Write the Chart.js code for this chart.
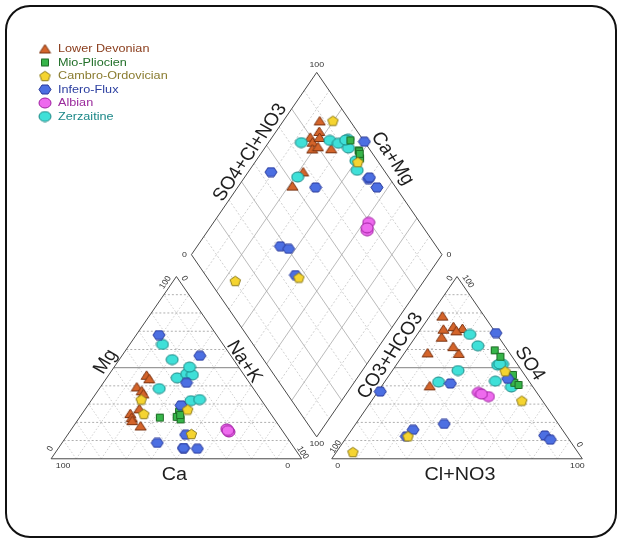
<!DOCTYPE html>
<html>
<head>
<meta charset="utf-8">
<title>Piper diagram</title>
<script src="https://cdn.jsdelivr.net/npm/chart.js@4.4.1/dist/chart.umd.min.js"></script>
<style>
  html, body { margin: 0; padding: 0; background: #ffffff; }
  canvas { display: block; }
</style>
</head>
<body>
<canvas id="piper" width="622" height="543"></canvas>
<script>
// ---- Sample chemistry (meq %). Ca = 100 - Mg - NaK, HCO3 = 100 - SO4 - Cl ----
const groupNames = ['Lower Devonian', 'Mio-Pliocien', 'Cambro-Ordovician', 'Infero-Flux', 'Albian', 'Zerzaitine'];

const devonianMg  = [39.4, 45.8, 43.9, 37.3, 35.6, 24.8, 22.6, 20.9, 27.4, 18.0];
const devonianNaK = [14.5, 15.2, 17.2, 17.5, 19.0, 19.2, 20.9, 21.9, 21.5, 26.7];
const devonianSO4 = [71.5, 57.8, 72.5, 61.5, 78.3, 66.7, 71.1, 58.1, 40.0, 70.2];
const devonianCl  = [16.4, 21.8, 12.3, 17.7, 5.0, 10.5, 9.0, 9.2, 19.1, 14.6];

const miopliMg  = [22.6, 25.9, 23.0, 21.6, 24.0];
const miopliNaK = [32.1, 38.1, 38.6, 40.9, 39.5];
const miopliSO4 = [59.5, 56.0, 46.0, 41.7, 40.5];
const miopliCl  = [35.3, 39.3, 49.3, 52.0, 54.3];

const cambroMg  = [32.5, 24.6, 27.0, 13.6];
const cambroNaK = [19.7, 24.7, 41.0, 49.2];
const cambroSO4 = [48.0, 3.7, 31.9, 12.3];
const cambroCl  = [45.2, 6.6, 59.9, 24.3];

const inferoMg  = [67.9, 56.5, 41.7, 29.3, 8.7, 5.9, 5.5, 13.2, 5.9];
const inferoNaK = [9.1, 31.1, 33.2, 37.2, 38.0, 49.9, 55.6, 47.1, 49.9];
const inferoSO4 = [19.1, 41.3, 36.9, 15.9, 69.0, 12.8, 10.5, 12.3, 43.9];
const inferoCl  = [35.3, 26.7, 0.9, 24.5, 31.0, 78.6, 82.0, 23.6, 48.3];

const albianMg  = [16.4, 14.7, 15.5];
const albianNaK = [61.9, 63.6, 62.8];
const albianSO4 = [34.1, 36.4, 35.5];
const albianCl  = [45.5, 40.3, 42.0];

const zerzMg  = [62.7, 38.5, 44.4, 46.6, 46.0, 31.9, 32.5, 54.4, 50.3];
const zerzNaK = [13.1, 23.9, 28.1, 30.8, 33.4, 39.9, 43.0, 21.1, 30.1];
const zerzSO4 = [48.4, 42.6, 68.2, 51.9, 51.4, 39.4, 62.0, 42.1, 52.0];
const zerzCl  = [26.2, 44.0, 21.0, 42.2, 40.5, 52.0, 27.3, 21.6, 41.0];

const gridSteps = [10, 20, 30, 40, 50, 60, 70, 80, 90];

// ---- Piper geometry (triangle side = 100 units) ----
const H = Math.sqrt(3) / 2;
const GAP = 12;
const STRETCH = 1.1; // horizontal text stretch of the layout

// pixel layout: x unit 2.555 px from left corner at 46; y unit 2.152 px from base at 463
const X_PX = 2.555, X0 = 46, Y_PX = 2.152, Y0 = 463;
const W = 622, HGT = 543;

// text rotation (before the horizontal stretch) that lines labels up with the slanted edges
const EDGE_ROT = Math.atan(Math.tan(Math.atan((100 * H * Y_PX) / (50 * X_PX))) * STRETCH) * 180 / Math.PI;

function cationXY(mg, nak) { return { x: nak + mg / 2, y: mg * H }; }
function anionXY(so4, cl) { return { x: 100 + GAP + cl + so4 / 2, y: so4 * H }; }
function diamondXY(nak, anionSum) {
  return { x: (100 + GAP + nak + anionSum) / 2, y: H * (100 + GAP + anionSum - nak) };
}

function piperPoints(mg, nak, so4, cl) {
  const pts = [];
  mg.forEach((m, i) => pts.push(cationXY(m, nak[i])));
  so4.forEach((s, i) => pts.push(anionXY(s, cl[i])));
  nak.forEach((n, i) => pts.push(diamondXY(n, so4[i] + cl[i])));
  return pts;
}

// ---- Marker glyphs ----
function makeMarker(kind, fill, stroke) {
  const dims = { tri: [13, 11], sq: [10, 10], pent: [13, 12], hex: [14, 11], circ: [14, 12] };
  const [w, h] = dims[kind];
  const c = document.createElement('canvas');
  c.width = w; c.height = h;
  const g = c.getContext('2d');
  g.fillStyle = fill; g.strokeStyle = stroke; g.lineWidth = 1;
  const cx = w / 2, cy = h / 2, rx = w / 2 - 1, ry = h / 2 - 1;
  g.beginPath();
  if (kind === 'tri') {
    g.moveTo(cx, 1); g.lineTo(w - 1, h - 1.5); g.lineTo(1, h - 1.5); g.closePath();
  } else if (kind === 'sq') {
    g.rect(1.5, 1.5, w - 3, h - 3);
  } else if (kind === 'pent') {
    for (let k = 0; k < 5; k++) {
      const a = -Math.PI / 2 + k * 2 * Math.PI / 5;
      const px = cx + rx * Math.cos(a), py = cy + 0.5 + ry * Math.sin(a) * 1.05;
      k ? g.lineTo(px, py) : g.moveTo(px, py);
    }
    g.closePath();
  } else if (kind === 'hex') {
    for (let k = 0; k < 6; k++) {
      const a = k * Math.PI / 3;
      const px = cx + rx * Math.cos(a), py = cy + ry * Math.sin(a) / H;
      k ? g.lineTo(px, Math.min(Math.max(py, 1), h - 1)) : g.moveTo(px, py);
    }
    g.closePath();
  } else {
    g.ellipse(cx, cy, rx, ry, 0, 0, Math.PI * 2);
  }
  g.fill(); g.stroke();
  return c;
}

const styles = [
  { marker: makeMarker('tri',  '#d4642a', '#7c3412'), text: '#8a3d1c' },
  { marker: makeMarker('sq',   '#37b54a', '#1c6a24'), text: '#22702a' },
  { marker: makeMarker('pent', '#f5d430', '#8e7c1c'), text: '#8a7c30' },
  { marker: makeMarker('hex',  '#4c6fe2', '#28399a'), text: '#2c3fa0' },
  { marker: makeMarker('circ', '#ee6aee', '#9e1fa0'), text: '#9a2a9c' },
  { marker: makeMarker('circ', '#3fe0d8', '#1b8784'), text: '#1c8888' }
];

const groupData = [
  piperPoints(devonianMg, devonianNaK, devonianSO4, devonianCl),
  piperPoints(miopliMg, miopliNaK, miopliSO4, miopliCl),
  piperPoints(cambroMg, cambroNaK, cambroSO4, cambroCl),
  piperPoints(inferoMg, inferoNaK, inferoSO4, inferoCl),
  piperPoints(albianMg, albianNaK, albianSO4, albianCl),
  piperPoints(zerzMg, zerzNaK, zerzSO4, zerzCl)
];

// stacking: lower order is drawn on top
const drawOrder = [6, 4, 2, 3, 1, 5];

const datasets = groupNames.map((name, i) => ({
  label: name,
  data: groupData[i],
  pointStyle: styles[i].marker,
  pointRadius: 5,
  order: drawOrder[i]
}));

// ---- Frame, ternary grids, axis titles and legend ----
const piperFrame = {
  id: 'piperFrame',
  beforeDatasetsDraw(chart) {
    const ctx = chart.ctx, sx = chart.scales.x, sy = chart.scales.y;
    const P = (x, y) => [sx.getPixelForValue(x), sy.getPixelForValue(y)];
    const line = (a, b, color, width, dash) => {
      ctx.save();
      ctx.strokeStyle = color; ctx.lineWidth = width; ctx.setLineDash(dash || []);
      ctx.beginPath();
      const p1 = P(a.x, a.y), p2 = P(b.x, b.y);
      ctx.moveTo(p1[0], p1[1]); ctx.lineTo(p2[0], p2[1]);
      ctx.stroke(); ctx.restore();
    };
    const poly = (pts, color, width) => {
      ctx.save(); ctx.strokeStyle = color; ctx.lineWidth = width; ctx.beginPath();
      pts.forEach((p, i) => { const q = P(p.x, p.y); i ? ctx.lineTo(q[0], q[1]) : ctx.moveTo(q[0], q[1]); });
      ctx.closePath(); ctx.stroke(); ctx.restore();
    };

    // white page with rounded border
    ctx.save();
    ctx.fillStyle = '#ffffff';
    ctx.fillRect(0, 0, chart.width, chart.height);
    ctx.beginPath();
    ctx.roundRect(6, 6, chart.width - 12, chart.height - 12, 24);
    ctx.lineWidth = 2; ctx.strokeStyle = '#111111'; ctx.stroke();
    ctx.restore();

    // two ternary triangles
    [0, 100 + GAP].forEach(off => {
      gridSteps.forEach(k => {
        const mid = k === 50;
        line({ x: off + k / 2, y: k * H }, { x: off + 100 - k / 2, y: k * H },
             mid ? '#9a9a9a' : '#9c9c9c', mid ? 1.4 : 0.8, mid ? [] : [2, 2]);
        line({ x: off + k, y: 0 }, { x: off + k + (100 - k) / 2, y: (100 - k) * H }, '#c4c4c4', 0.8, [1.5, 2]);
        line({ x: off + k, y: 0 }, { x: off + k / 2, y: k * H }, '#c4c4c4', 0.8, [1.5, 2]);
      });
      poly([{ x: off, y: 0 }, { x: off + 100, y: 0 }, { x: off + 50, y: 100 * H }], '#4a4a4a', 1);
    });

    // diamond
    gridSteps.forEach(k => {
      const solid = k % 20 === 0;
      const col = solid ? '#a8a8a8' : '#c4c4c4';
      const dash = solid ? [] : [2, 2];
      line(diamondXY(k, 0), diamondXY(k, 100), col, 0.8, dash);
      line(diamondXY(0, k), diamondXY(100, k), col, 0.8, dash);
    });
    poly([diamondXY(0, 0), diamondXY(0, 100), diamondXY(100, 100), diamondXY(100, 0)], '#4a4a4a', 1);
  },
  afterDatasetsDraw(chart) {
    const ctx = chart.ctx, sx = chart.scales.x, sy = chart.scales.y;
    const P = (x, y) => [sx.getPixelForValue(x), sy.getPixelForValue(y)];
    const font = 'Arial, "Liberation Sans", Helvetica, sans-serif';
    const text = (str, at, dx, dy, deg, size, color, align) => {
      const p = P(at.x, at.y);
      ctx.save();
      ctx.translate(p[0] + dx, p[1] + dy);
      ctx.scale(STRETCH, 1);
      ctx.rotate(deg * Math.PI / 180);
      ctx.font = size + 'px ' + font;
      ctx.fillStyle = color;
      ctx.textAlign = align || 'center';
      ctx.textBaseline = 'middle';
      ctx.fillText(str, 0, 0);
      ctx.restore();
    };
    const R = 100 + GAP;
    const A = EDGE_ROT;
    const tc = '#333333', ac = '#1e1e1e';

    // cation triangle
    text('Mg', { x: 25, y: 50 * H }, -8, -6, -A, 18, ac);
    text('Na+K', { x: 75, y: 50 * H }, 5, -6, A, 18, ac);
    text('Ca', { x: 50, y: 0 }, -2, 16, 0, 18, ac);
    text('100', { x: 0, y: 0 }, 12, 7, 0, 8, tc);
    text('0', { x: 100, y: 0 }, -14, 7, 0, 8, tc);
    text('0', { x: 0, y: 0 }, -1, -10, -A, 8, tc);
    text('100', { x: 50, y: 100 * H }, -11, 6, -A, 8, tc);
    text('0', { x: 50, y: 100 * H }, 8, 2, A, 8, tc);
    text('100', { x: 100, y: 0 }, 1, -6, A, 8, tc);

    // anion triangle
    text('CO3+HCO3', { x: R + 25, y: 50 * H }, -4, -12, -A, 18, ac);
    text('SO4', { x: R + 75, y: 50 * H }, 10, -4, A, 18, ac);
    text('Cl+NO3', { x: R + 50, y: 0 }, 3, 16, 0, 18, ac);
    text('0', { x: R, y: 0 }, 6, 7, 0, 8, tc);
    text('100', { x: R + 100, y: 0 }, -5, 7, 0, 8, tc);
    text('100', { x: R, y: 0 }, 4, -12, -A, 8, tc);
    text('0', { x: R + 50, y: 100 * H }, -7, 2, -A, 8, tc);
    text('100', { x: R + 50, y: 100 * H }, 11, 5, A, 8, tc);
    text('0', { x: R + 100, y: 0 }, -3, -14, A, 8, tc);

    // diamond
    text('SO4+Cl+NO3', diamondXY(0, 50), -4, -11, -A, 18, ac);
    text('Ca+Mg', diamondXY(50, 100), 13, -5, A, 18, ac);
    text('100', diamondXY(0, 100), 0, -8, 0, 8, tc);
    text('0', diamondXY(0, 0), -7, 0, 0, 8, tc);
    text('100', diamondXY(100, 0), 0, 7, 0, 8, tc);
    text('0', diamondXY(100, 100), 7, 0, 0, 8, tc);

    // legend
    const rowY = [49, 62.5, 76, 89.5, 103, 116.5];
    groupNames.forEach((name, i) => {
      const m = styles[i].marker;
      ctx.drawImage(m, 45 - m.width / 2, rowY[i] - m.height / 2);
      ctx.save();
      ctx.translate(58, rowY[i]);
      ctx.scale(STRETCH, 1);
      ctx.font = '11.5px ' + font;
      ctx.fillStyle = styles[i].text;
      ctx.textAlign = 'left';
      ctx.textBaseline = 'middle';
      ctx.fillText(name, 0, 0);
      ctx.restore();
    });
  }
};

new Chart(document.getElementById('piper'), {
  type: 'scatter',
  data: { datasets },
  options: {
    responsive: false,
    animation: false,
    events: [],
    layout: { padding: 0 },
    plugins: { legend: { display: false }, tooltip: { enabled: false } },
    scales: {
      x: { type: 'linear', display: false, min: -X0 / X_PX, max: (W - X0) / X_PX },
      y: { type: 'linear', display: false, min: -(HGT - Y0) / Y_PX, max: Y0 / Y_PX }
    }
  },
  plugins: [piperFrame]
});
</script>
</body>
</html>
